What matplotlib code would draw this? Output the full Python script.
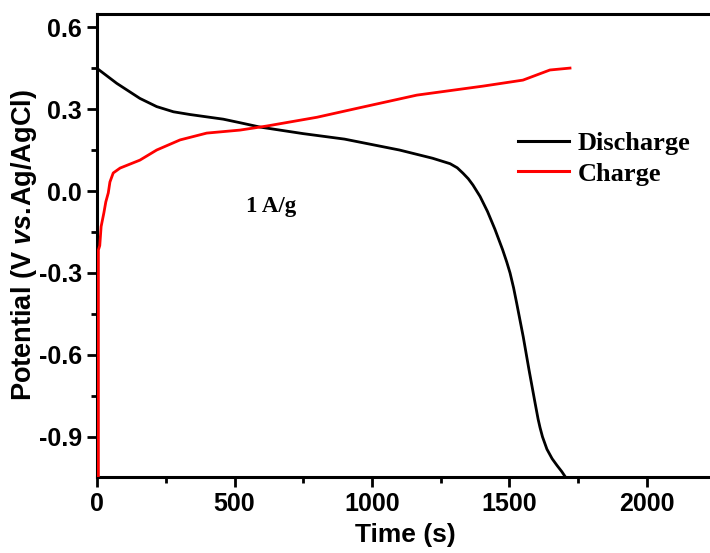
import matplotlib
matplotlib.use("Agg")
from matplotlib import pyplot as plt, ticker

# Discharge curve (time in s, potential in V vs. Ag/AgCl)
discharge_t = [0, 72, 156, 217, 278, 338, 459, 520, 593, 750, 900, 1000, 1100,
               1220, 1284, 1310, 1331, 1350, 1367, 1393, 1420, 1447, 1475, 1490,
               1502, 1515, 1526, 1550, 1571, 1593, 1604, 1611, 1620, 1636, 1655,
               1673, 1690, 1702]
discharge_v = [0.449, 0.394, 0.339, 0.309, 0.290, 0.280, 0.263, 0.250, 0.234,
               0.210, 0.190, 0.170, 0.150, 0.120, 0.100, 0.085, 0.065, 0.045,
               0.022, -0.020, -0.075, -0.140, -0.215, -0.260, -0.300, -0.355,
               -0.410, -0.534, -0.655, -0.776, -0.835, -0.866, -0.900, -0.945,
               -0.980, -1.005, -1.027, -1.045]

# Charge curve
charge_t = [5, 5, 10, 15, 25, 32, 41, 47, 59, 84, 156, 217, 302, 399, 520, 618,
            800, 956, 1163, 1404, 1549, 1647, 1720]
charge_v = [-1.05, -0.216, -0.20, -0.13, -0.08, -0.04, -0.007, 0.033, 0.066,
            0.084, 0.113, 0.150, 0.187, 0.212, 0.223, 0.238, 0.270, 0.305,
            0.351, 0.384, 0.406, 0.443, 0.450]

x_ticks = [0, 500, 1000, 1500, 2000]
y_ticks = [-0.9, -0.6, -0.3, 0.0, 0.3, 0.6]

plt.rcParams["font.family"] = ["Liberation Sans", "DejaVu Sans"]
plt.rcParams["font.weight"] = "bold"
plt.rcParams["mathtext.fontset"] = "custom"
plt.rcParams["mathtext.it"] = "Liberation Sans:italic:bold"
plt.rcParams["mathtext.rm"] = "Liberation Sans:bold"

fig = plt.figure(figsize=(7.1, 5.53), dpi=100, facecolor="white")
ax = fig.add_axes([97 / 710, 1 - 477 / 553, 616 / 710, 463 / 553])

ax.plot(discharge_t, discharge_v, color="black", linewidth=2, label="Discharge",
        zorder=3)
ax.plot(charge_t, charge_v, color="#ff0000", linewidth=2, label="Charge",
        zorder=3)

ax.set_xlim(0, 2240)
ax.set_ylim(-1.047, 0.648)

# Ticks
ax.set_xticks(x_ticks)
ax.set_yticks(y_ticks)
ax.xaxis.set_minor_locator(ticker.MultipleLocator(250))
ax.yaxis.set_minor_locator(ticker.MultipleLocator(0.15))
ax.yaxis.set_major_formatter(ticker.FormatStrFormatter("%.1f"))
ax.tick_params(axis="both", which="major", direction="out", length=7, width=2,
               labelsize=18, pad=4)
ax.tick_params(axis="both", which="minor", direction="out", length=4, width=2)
for lbl in ax.get_xticklabels() + ax.get_yticklabels():
    lbl.set_fontweight("bold")

for side in ax.spines.values():
    side.set_linewidth(2.2)

# Labels
ax.set_xlabel("Time (s)", fontsize=19, fontweight="bold", labelpad=5)
ax.set_ylabel(r"Potential (V $\mathit{vs.}\!$Ag/AgCl)", fontsize=19.5,
              fontweight="bold", labelpad=0)

ax.text(633, -0.055, "1 A/g", fontsize=16.5, fontweight="bold",
        family=["Liberation Serif"], ha="center", va="center")

leg = ax.legend(loc="upper left", bbox_to_anchor=(518 / 710, 1 - 132 / 553),
                bbox_transform=fig.transFigure, frameon=False,
                prop={"family": "Liberation Serif", "weight": "bold", "size": 19},
                handlelength=1.95, handletextpad=0.3, labelspacing=0.25,
                borderpad=0, borderaxespad=0)
for line in leg.get_lines():
    line.set_linewidth(2.2)

fig.savefig("out.png", dpi=100, facecolor="white")
